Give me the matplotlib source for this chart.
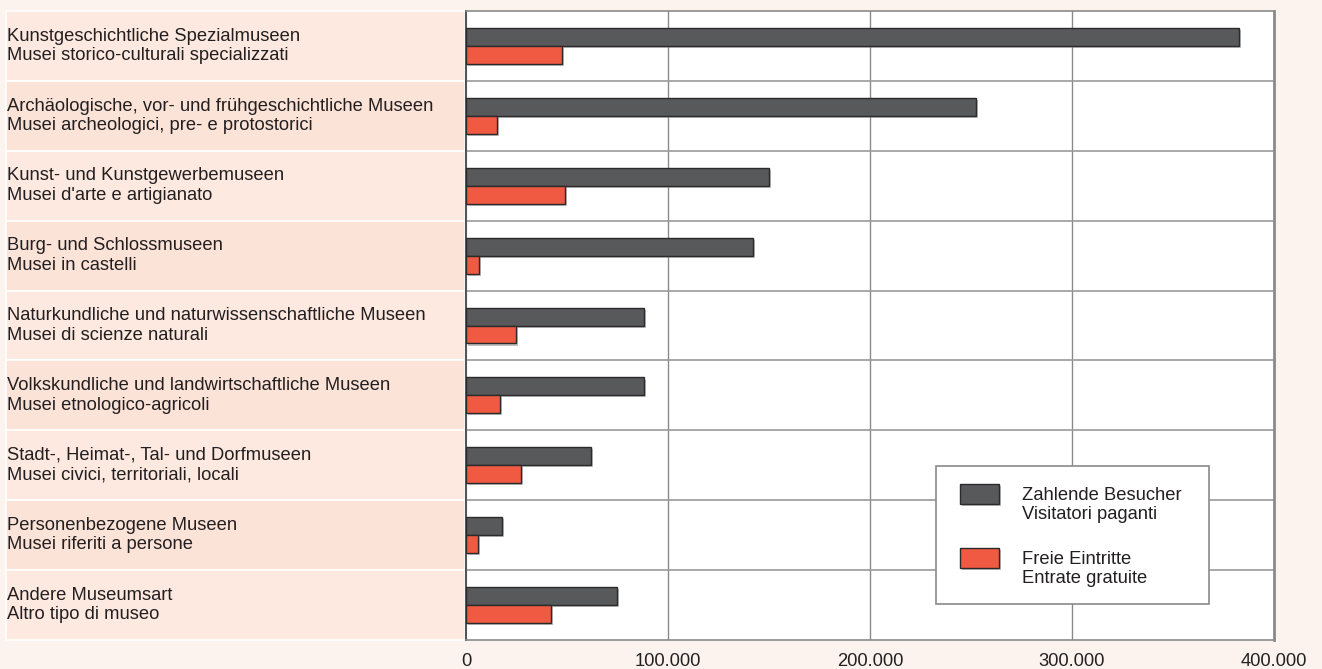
import matplotlib
matplotlib.use("Agg")
import matplotlib.pyplot as plt
import matplotlib.transforms as mtransforms
from matplotlib.patches import Rectangle
from matplotlib import patheffects as pe
import numpy as np

plt.rcParams["font.family"] = ["Liberation Sans", "DejaVu Sans"]

# --- Daten ---
kategorien_de = ["Kunstgeschichtliche Spezialmuseen",
                 "Archäologische, vor- und frühgeschichtliche Museen",
                 "Kunst- und Kunstgewerbemuseen",
                 "Burg- und Schlossmuseen",
                 "Naturkundliche und naturwissenschaftliche Museen",
                 "Volkskundliche und landwirtschaftliche Museen",
                 "Stadt-, Heimat-, Tal- und Dorfmuseen",
                 "Personenbezogene Museen",
                 "Andere Museumsart"]
kategorien_it = ["Musei storico-culturali specializzati",
                 "Musei archeologici, pre- e protostorici",
                 "Musei d'arte e artigianato",
                 "Musei in castelli",
                 "Musei di scienze naturali",
                 "Musei etnologico-agricoli",
                 "Musei civici, territoriali, locali",
                 "Musei riferiti a persone",
                 "Altro tipo di museo"]
zahlende = [382700, 252500, 150000, 141900, 88000, 88000, 61900, 17800, 74600]
freie = [47500, 15300, 49000, 6300, 24900, 16800, 27200, 5900, 41900]
xticks = [0, 100000, 200000, 300000, 400000]
xtick_labels = ["0", "100.000", "200.000", "300.000", "400.000"]
legende = ["Zahlende Besucher\nVisitatori paganti", "Freie Eintritte\nEntrate gratuite"]

GRAU = "#58595b"; ROT = "#f15a42"; BG = "#fdf3ee"
STREIFEN = ["#fde9e0", "#fce3d8"]
W, H = 1322, 669
FS = 13.2; LS = 1.2

fig = plt.figure(figsize=(W / 100, H / 100), dpi=100, facecolor=BG)
ax = fig.add_axes([466 / W, 1 - 640 / H, (1274 - 466) / W, (640 - 11) / H])
ax.set_facecolor("white")

n = len(zahlende)
y = np.arange(n)
h = 0.257
shadow = [pe.SimplePatchShadow(offset=(1.5, -1.5), shadow_rgbFace="#999999", alpha=0.6), pe.Normal()]
b1 = ax.barh(y - h / 2, zahlende, height=h, color=GRAU, edgecolor="#2b2b2b", linewidth=1, zorder=3)
b2 = ax.barh(y + h / 2, freie, height=h, color=ROT, edgecolor="#2b2b2b", linewidth=1, zorder=3)
for b in list(b1) + list(b2):
    b.set_path_effects(shadow)

ax.set_xlim(0, 400000)
ax.set_ylim(n - 0.5, -0.5)
for xv in xticks[1:-1]:
    ax.axvline(xv, color="#8a8a8a", lw=1, zorder=1)
for i in range(1, n):
    ax.axhline(i - 0.5, color="#9a9a9a", lw=1.2, zorder=1)

ax.set_yticks([])
ax.set_xticks(xticks)
ax.set_xticklabels(xtick_labels, fontsize=FS, color="#222222")
ax.tick_params(axis="x", length=0, pad=9)
for s in ["top", "bottom"]:
    ax.spines[s].set_color("#8a8a8a"); ax.spines[s].set_linewidth(1.2)
ax.spines["left"].set_color("#555555"); ax.spines["left"].set_linewidth(1.5)
ax.spines["right"].set_color("#8a8a8a"); ax.spines["right"].set_linewidth(2)

# Beschriftungsstreifen links
trans = mtransforms.blended_transform_factory(fig.transFigure, ax.transData)
for i in range(n):
    ax.add_patch(Rectangle((6 / W, i - 0.5), (465 - 6) / W, 1, transform=trans,
                           facecolor=STREIFEN[i % 2], edgecolor="white", lw=1.2,
                           zorder=0, clip_on=False))
    ax.text(7 / W, i, kategorien_de[i] + "\n" + kategorien_it[i], transform=trans,
            ha="left", va="center", fontsize=FS, color="#231f20", linespacing=LS,
            zorder=2, clip_on=False)

# Legende
lx0, ly0, lx1, ly1 = 936, 466, 1209, 604
ax.add_patch(Rectangle((lx0 / W, 1 - ly1 / H), (lx1 - lx0) / W, (ly1 - ly0) / H,
                       transform=fig.transFigure, facecolor="white", edgecolor="#8a8a8a",
                       lw=1.2, zorder=5, clip_on=False))
for k, (col, lab) in enumerate(zip([GRAU, ROT], legende)):
    py = 484 + k * 64
    p = Rectangle((960 / W, 1 - (py + 20) / H), 39 / W, 20 / H, transform=fig.transFigure,
                  facecolor=col, edgecolor="#2b2b2b", lw=1, zorder=6, clip_on=False)
    p.set_path_effects(shadow)
    ax.add_patch(p)
    ax.text(1022 / W, 1 - (py + 21) / H, lab, transform=fig.transFigure, ha="left",
            va="center", fontsize=FS, color="#231f20", linespacing=LS, zorder=7)

fig.savefig("out.png", dpi=100, facecolor=BG)
